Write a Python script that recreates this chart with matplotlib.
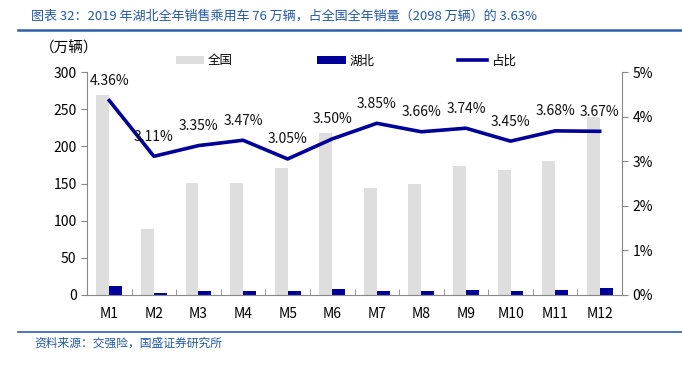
import numpy as np
import matplotlib
matplotlib.use('Agg')
from matplotlib import pyplot as plt

plt.rcParams['font.family'] = ['Noto Sans CJK SC', 'DejaVu Sans']

months = ['M1', 'M2', 'M3', 'M4', 'M5', 'M6', 'M7', 'M8', 'M9', 'M10', 'M11', 'M12']
national = [269, 89, 151, 151, 171, 218, 144, 149, 174, 168, 180, 240]
hubei = [11.7, 2.8, 5.1, 5.2, 5.2, 7.6, 5.5, 5.5, 6.5, 5.8, 6.6, 8.8]
share = [4.36, 3.11, 3.35, 3.47, 3.05, 3.50, 3.85, 3.66, 3.74, 3.45, 3.68, 3.67]

gray = '#DEDEDE'
navy = '#000099'
blue_txt = '#2458A6'

fig = plt.figure(figsize=(6.82, 3.65), dpi=100)
ax = fig.add_axes([0.1276, 0.1918, 0.912 - 0.1276, 0.8027 - 0.1918])
ax2 = ax.twinx()

x = np.arange(len(months))
w = 0.29
b1 = ax.bar(x - w / 2, national, w, color=gray, label='全国', zorder=1)
b2 = ax.bar(x + w / 2, hubei, w, color=navy, label='湖北', zorder=1)
ln, = ax2.plot(x, share, color=navy, lw=2.6, label='占比')
for xi, v in zip(x, share):
    ax2.annotate('%.2f%%' % v, (xi, v), xytext=(0, 9), textcoords='offset points',
                 ha='center', va='bottom', fontsize=10, color='#111111')

ax.set_xlim(-0.5, len(months) - 0.5)
ax.set_ylim(0, 300)
ax.set_yticks(range(0, 301, 50))
ax2.set_ylim(0, 5)
ax2.set_yticks(range(0, 6))
ax2.set_yticklabels(['%d%%' % v for v in range(0, 6)])

ax.set_xticks(x)
ax.set_xticklabels(months)
ax.set_xticks(np.arange(-0.5, len(months)), minor=True)
ax.tick_params(axis='x', which='major', length=0, pad=9, labelsize=10)
ax.tick_params(axis='x', which='minor', length=4, color='#888888', direction='in')
ax.tick_params(axis='y', length=4, color='#888888', labelsize=10)
ax2.tick_params(axis='y', length=4, color='#888888', labelsize=10)

for a in (ax, ax2):
    a.spines['top'].set_visible(False)
    for s in ('left', 'right', 'bottom'):
        a.spines[s].set_color('#888888')
ax2.spines['left'].set_visible(False)
ax.spines['right'].set_visible(False)
ax2.spines['bottom'].set_visible(False)

fig.legend([b1, b2, ln], ['全国', '湖北', '占比'], loc='center left',
           bbox_to_anchor=(0.241, 0.833), ncol=3, frameon=False, fontsize=9,
           handlelength=2.3, handleheight=0.6, columnspacing=6.7, handletextpad=0.3)

fig.text(0.058, 0.868, '（万辆）', fontsize=10.5, ha='left', va='center')

fig.text(0.045, 0.955, '图表 32：2019 年湖北全年销售乘用车 76 万辆，占全国全年销量（2098 万辆）的 3.63%',
         fontsize=9.4, color=blue_txt, style='italic', ha='left', va='center')
fig.add_artist(plt.Line2D([0.026, 1.0], [0.918, 0.918], color='#2E5FA8', lw=1.8))
fig.add_artist(plt.Line2D([0.026, 1.0], [0.09, 0.09], color='#2E5FA8', lw=1.2))
fig.text(0.05, 0.06, '资料来源：交强险，国盛证券研究所', fontsize=8.5,
         color=blue_txt, style='italic', ha='left', va='center')

fig.savefig('out.png', dpi=100)
